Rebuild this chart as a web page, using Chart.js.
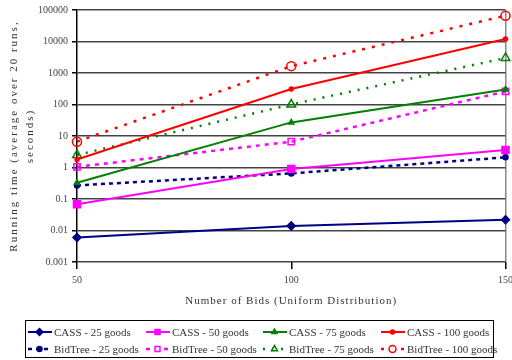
<!DOCTYPE html>
<html>
<head>
<meta charset="utf-8">
<script src="https://cdn.jsdelivr.net/npm/chart.js@4"></script>
<style>
  body { margin: 0; background: #fff; }
  #wrap { position: relative; width: 512px; height: 360px; overflow: hidden; }
  #legend {
    position: absolute; left: 25px; top: 320px; width: 469px; height: 38px;
    border: 1.5px solid #000; box-sizing: border-box;
  }
  .item {
    position: absolute; height: 14px; display: flex; align-items: center; white-space: nowrap;
    font: 11px "Liberation Serif", serif; color: #333;
  }
  .item canvas { margin-right: 2px; }
</style>
</head>
<body>
<div id="wrap">
  <canvas id="chart" width="512" height="360"></canvas>
  <div id="legend"></div>
</div>
<script>
const bids = [50, 100, 150];
const yTicks = [0.001, 0.01, 0.1, 1, 10, 100, 1000, 10000, 100000];

const cass25 = [0.006, 0.014, 0.022];
const cass50 = [0.068, 0.9, 3.6];
const cass75 = [0.33, 27, 300];
const cass100 = [1.8, 310, 12000];
const bidtree25 = [0.27, 0.65, 2.1];
const bidtree50 = [1.05, 6.6, 260];
const bidtree75 = [2.5, 100, 3000];
const bidtree100 = [6.6, 1650, 66000];

const navy = "#000080", magenta = "#ff00ff", green = "#008000", red = "#ff0000";

function series(label, values, color, style, radius, filled, dash, width) {
  return {
    label,
    data: values.map((v, i) => ({ x: bids[i], y: v })),
    borderColor: color,
    backgroundColor: filled ? color : "#fff",
    pointBorderColor: color,
    pointBackgroundColor: filled ? color : "rgba(255,255,255,0)",
    pointStyle: style,
    pointRadius: radius,
    pointBorderWidth: 1.5,
    borderWidth: width,
    borderDash: dash,
    tension: 0,
    clip: false
  };
}

const datasets = [
  series("CASS - 25 goods", cass25, navy, "rectRot", 4, true, [], 2),
  series("CASS - 50 goods", cass50, magenta, "rect", 5, true, [], 2),
  series("CASS - 75 goods", cass75, green, "triangle", 3, true, [], 2),
  series("CASS - 100 goods", cass100, red, "circle", 2, true, [], 2),
  series("BidTree - 25 goods", bidtree25, navy, "circle", 2.5, true, [4, 4], 2.5),
  series("BidTree - 50 goods", bidtree50, magenta, "rect", 4.5, false, [4, 5], 2.5),
  series("BidTree - 75 goods", bidtree75, green, "triangle", 5, false, [2, 7], 2.5),
  series("BidTree - 100 goods", bidtree100, red, "circle", 4.5, false, [3, 7], 2.5)
];

const titles = {
  id: "titles",
  afterDraw(chart) {
    const ctx = chart.ctx;
    const a = chart.chartArea;
    ctx.save();
    ctx.fillStyle = "#333";
    ctx.font = "11px 'Liberation Serif', serif";
    ctx.textAlign = "center";
    ctx.textBaseline = "middle";
    ctx.letterSpacing = "1px";
    ctx.fillText("Number of Bids (Uniform Distribution)", (a.left + a.right) / 2, 301);
    ctx.translate(0, (a.top + a.bottom) / 2);
    ctx.rotate(-Math.PI / 2);
    ctx.letterSpacing = "2px";
    ctx.fillText("Running time (average over 20 runs,", 0, 14);
    ctx.fillText("seconds)", 0, 30);
    ctx.restore();
  }
};

new Chart(document.getElementById("chart"), {
  type: "line",
  data: { datasets },
  options: {
    responsive: false,
    animation: false,
    layout: { padding: { left: 0, top: 10, right: 5, bottom: 0 } },
    plugins: { legend: { display: false }, tooltip: { enabled: false } },
    scales: {
      x: {
        type: "linear",
        min: 50,
        max: 150,
        afterBuildTicks: s => { s.ticks = bids.map(v => ({ value: v })); },
        afterFit: s => { s.height = 98; s.paddingLeft = 0; s.paddingRight = 0; },
        ticks: { color: "#444", padding: 5, maxRotation: 0, font: { family: "'Liberation Serif', serif", size: 10 } },
        grid: {
          drawOnChartArea: true,
          color: c => (c.tick && c.tick.value === 150 ? "#888" : "rgba(0,0,0,0)"),
          tickColor: "#000",
          tickLength: 7,
          lineWidth: 1.5
        },
        border: { display: false }
      },
      y: {
        type: "logarithmic",
        min: 0.001,
        max: 100000,
        afterBuildTicks: s => { s.ticks = yTicks.map(v => ({ value: v })); },
        afterFit: s => { s.width = 77; s.paddingTop = 0; s.paddingBottom = 0; },
        ticks: {
          color: "#444",
          padding: 4,
          font: { family: "'Liberation Serif', serif", size: 10 },
          callback: v => String(v)
        },
        grid: { color: "#444", lineWidth: 1.5, tickLength: 5, tickColor: "#000" },
        border: { display: true, color: "#000", width: 1.5 }
      }
    }
  },
  plugins: [titles]
});

// legend built from the datasets, 4 columns x 2 rows
const wrap = document.getElementById("wrap");
const colX = [27, 145, 262, 380];
const rowY = [325, 342];
datasets.forEach((ds, i) => {
  const item = document.createElement("div");
  item.className = "item";
  item.style.left = colX[i % 4] + "px";
  item.style.top = rowY[Math.floor(i / 4)] + "px";
  const c = document.createElement("canvas");
  c.width = 25; c.height = 12;
  const g = c.getContext("2d");
  g.strokeStyle = ds.borderColor;
  g.lineWidth = ds.borderWidth;
  g.setLineDash(ds.borderDash);
  g.beginPath(); g.moveTo(1, 6); g.lineTo(25, 6); g.stroke();
  g.setLineDash([]);
  g.fillStyle = ds.pointBackgroundColor === "rgba(255,255,255,0)" ? "#fff" : ds.pointBackgroundColor;
  g.strokeStyle = ds.pointBorderColor;
  g.lineWidth = ds.pointBorderWidth;
  Chart.helpers.drawPoint(g, { pointStyle: ds.pointStyle, radius: Math.min(ds.pointRadius, 3.5), rotation: 0, borderWidth: ds.pointBorderWidth }, 12.5, 6);
  const t = document.createElement("span");
  t.textContent = ds.label;
  item.appendChild(c);
  item.appendChild(t);
  wrap.appendChild(item);
});
</script>
</body>
</html>
